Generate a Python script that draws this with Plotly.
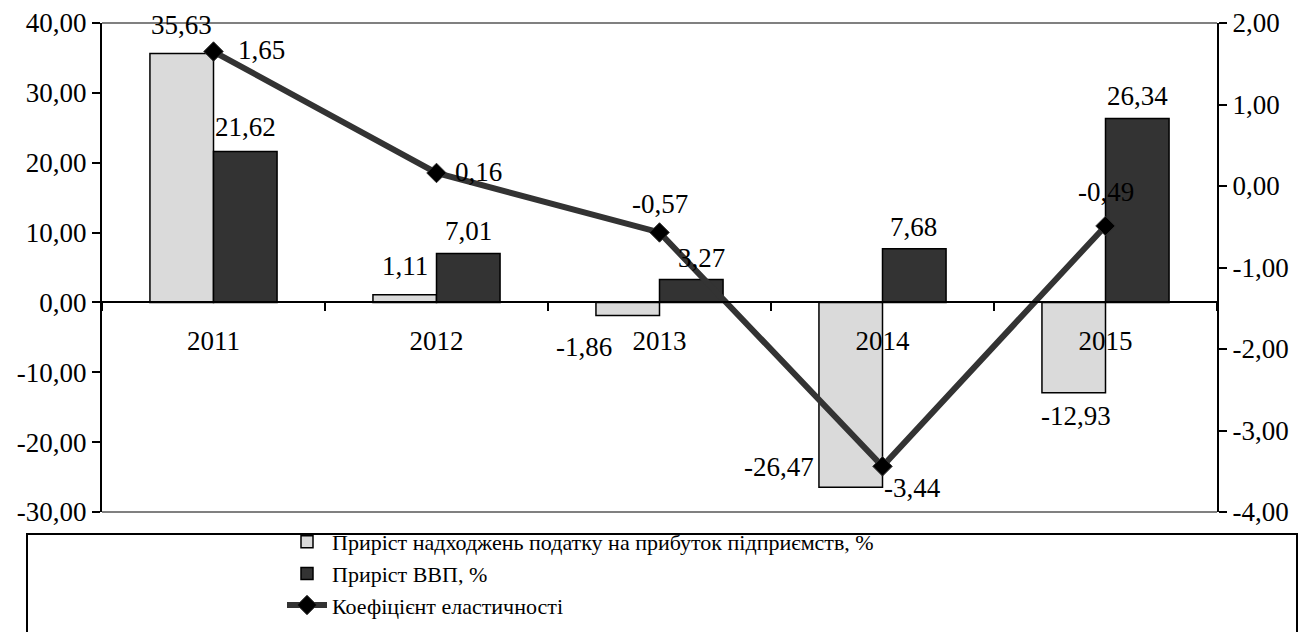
import plotly.graph_objects as go

years = ["2011", "2012", "2013", "2014", "2015"]
tax_growth = [35.63, 1.11, -1.86, -26.47, -12.93]
gdp_growth = [21.62, 7.01, 3.27, 7.68, 26.34]
elasticity = [1.65, 0.16, -0.57, -3.44, -0.49]
left_ticks = [-30, -20, -10, 0, 10, 20, 30, 40]
right_ticks = [-4, -3, -2, -1, 0, 1, 2]

name_tax = "Приріст надходжень податку на прибуток підприємств, %"
name_gdp = "Приріст ВВП, %"
name_el = "Коефіцієнт еластичності"

FONT = "Liberation Serif, Times New Roman, serif"
FS = 27

def fmt(v):
    return f"{v:.2f}".replace(".", ",")

fig = go.Figure()
fig.add_trace(go.Bar(x=years, y=tax_growth, name=name_tax,
                     marker=dict(color="#dadada", line=dict(color="black", width=1.5))))
fig.add_trace(go.Bar(x=years, y=gdp_growth, name=name_gdp,
                     marker=dict(color="#333333", line=dict(color="black", width=1.5))))
fig.add_trace(go.Scatter(x=years, y=elasticity, name=name_el, yaxis="y2",
                         mode="lines+markers",
                         line=dict(color="#333333", width=6),
                         marker=dict(symbol="diamond", size=15, color="black",
                                     line=dict(color="#333333", width=1))))

# label offsets (pixels) relative to each data point
tax_shift = [(-32, 29), (-32, 29), (-76, -32), (-104, 20), (-30, -23)]
gdp_shift = [(32, 24), (32, 22), (42, 22), (31, 22), (32, 22)]
el_shift = [(48, 2), (42, 1), (0, 28), (30, -22), (0, 34)]

ann = []
for i in range(len(years)):
    ann.append(dict(x=i, y=tax_growth[i], xref="x", yref="y", text=fmt(tax_growth[i]),
                    showarrow=False, xshift=tax_shift[i][0], yshift=tax_shift[i][1]))
    ann.append(dict(x=i, y=gdp_growth[i], xref="x", yref="y", text=fmt(gdp_growth[i]),
                    showarrow=False, xshift=gdp_shift[i][0], yshift=gdp_shift[i][1]))
    ann.append(dict(x=i, y=elasticity[i], xref="x", yref="y2", text=fmt(elasticity[i]),
                    showarrow=False, xshift=el_shift[i][0], yshift=el_shift[i][1]))
for a in ann:
    a["font"] = dict(family=FONT, size=FS, color="black")

OFF = 8  # page body margin
W, H = 1314, 632
T = 23 - OFF
L = 102 - OFF
R = W - (1217 - OFF)
paper_h = H - T
dom0 = (H - (512 - OFF)) / paper_h
zero_pos = dom0 + (30 / 70) * (1 - dom0)
pw = W - L - R
tick_style = dict(ticklen=8, tickwidth=2, tickcolor="black")

fig.update_layout(
    width=W, height=H,
    margin=dict(l=L, r=R, t=T, b=0),
    paper_bgcolor="white", plot_bgcolor="white",
    font=dict(family=FONT, size=FS, color="black"),
    barmode="group", bargap=0.43, bargroupgap=0,
    annotations=ann,
    xaxis=dict(type="category", categoryarray=years, categoryorder="array",
               range=[-0.5, 4.5], anchor="free", position=zero_pos,
               showline=True, linecolor="black", linewidth=2,
               ticks="outside", tickson="boundaries", **tick_style,
               showgrid=False, ticklabelstandoff=14, tickangle=0, automargin=False,
               tickfont=dict(family=FONT, size=FS)),
    yaxis=dict(domain=[dom0, 1], range=[-30, 40], tickvals=left_ticks,
               ticktext=[fmt(v) for v in left_ticks],
               showline=True, linecolor="black", linewidth=2,
               ticks="outside", **tick_style, automargin=False,
               showgrid=False, zeroline=False, tickfont=dict(family=FONT, size=FS)),
    yaxis2=dict(range=[-4, 2], tickvals=right_ticks, ticktext=[fmt(v) for v in right_ticks],
                side="right", overlaying="y", anchor="x",
                showline=True, linecolor="black", linewidth=2,
                ticks="outside", **tick_style, automargin=False,
                showgrid=False, zeroline=False, tickfont=dict(family=FONT, size=FS)),
    yaxis3=dict(range=[-30, 40], tickvals=left_ticks, overlaying="y", anchor="x",
                ticks="inside", **tick_style, automargin=False,
                showticklabels=False, showline=False, showgrid=False, zeroline=False),
    yaxis4=dict(range=[-4, 2], tickvals=right_ticks, overlaying="y", anchor="x", side="right",
                ticks="inside", **tick_style, automargin=False,
                showticklabels=False, showline=False, showgrid=False, zeroline=False),
    legend=dict(x=(282 - OFF - L) / pw, y=(H - (521 - OFF)) / paper_h,
                xanchor="left", yanchor="top",
                font=dict(family=FONT, size=22, color="black"),
                bgcolor="rgba(0,0,0,0)", borderwidth=0, tracegroupgap=0,
                itemwidth=40),
    shapes=[
        dict(type="line", xref="paper", yref="paper", x0=0, x1=1, y0=1, y1=1,
             line=dict(color="#808080", width=2), layer="below"),
        dict(type="line", xref="paper", yref="paper", x0=0, x1=1, y0=dom0, y1=dom0,
             line=dict(color="#808080", width=2), layer="below"),
        dict(type="rect", xref="paper", yref="paper",
             x0=(27 - OFF - L) / pw, x1=(1297 - OFF - L) / pw,
             y0=(H - (534 - OFF)) / paper_h, y1=-0.1, line=dict(color="black", width=2)),
    ],
)

fig.write_html("out.html")
